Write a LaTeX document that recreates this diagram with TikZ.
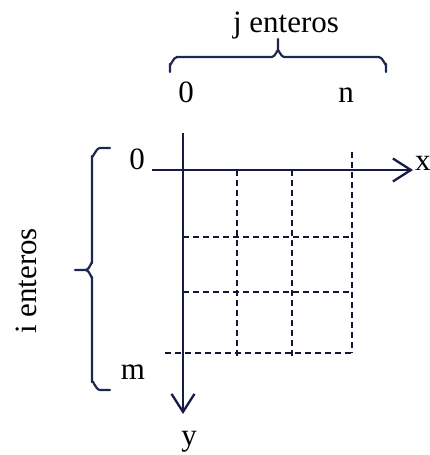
\documentclass[tikz,border=0pt]{standalone}
\usepackage{fontspec}
\setmainfont{Liberation Serif}
\usetikzlibrary{arrows.meta}
\definecolor{axiscol}{RGB}{22,26,70}
\definecolor{bracecol}{RGB}{28,40,80}
\definecolor{dashcol}{RGB}{20,22,50}
\begin{document}
\begin{tikzpicture}[x=1pt,y=-1pt,
  lbl/.style={inner sep=0pt,font=\fontsize{31}{36}\selectfont},
  axis/.style={draw=axiscol,line width=2.3pt,-{Straight Barb[length=18pt,width=23pt]}},
  gridline/.style={draw=dashcol,line width=1.7pt,dash pattern=on 6pt off 4pt},
  bracepath/.style={draw=bracecol,line width=2.2pt,line cap=round,line join=round}]
\useasboundingbox (0,0) rectangle (430,455);
% axis coordinates
\coordinate (ytop) at (183,133);
\coordinate (ytip) at (183,414);
\coordinate (xleft) at (152,170);
\coordinate (xtip) at (413,170);
% grid coordinates
\coordinate (a1) at (237,170); \coordinate (a2) at (237,357);
\coordinate (b1) at (292,170); \coordinate (b2) at (292,357);
\coordinate (c1) at (352,152); \coordinate (c2) at (352,353);
\coordinate (h1l) at (183,237); \coordinate (h1r) at (352,237);
\coordinate (h2l) at (183,292); \coordinate (h2r) at (352,292);
\coordinate (h3l) at (165,353); \coordinate (h3r) at (352,353);
% dashed grid
\draw[gridline] (a1) -- (a2);
\draw[gridline] (b1) -- (b2);
\draw[gridline] (c1) -- (c2);
\draw[gridline] (h1l) -- (h1r);
\draw[gridline] (h2l) -- (h2r);
\draw[gridline] (h3l) -- (h3r);
% axes
\draw[axis] (ytop) -- (ytip);
\draw[axis] (xleft) -- (xtip);
% top brace
\draw[bracepath] (170,72) -- (170,64) to[out=-90,in=180] (177,57) -- (272,57)
  to[out=0,in=90] (278,51) -- (278,39);
\draw[bracepath] (278,51) to[out=90,in=180] (284,57) -- (379,57)
  to[out=0,in=-90] (386,64) -- (386,72);
% left brace
\draw[bracepath] (110,148) -- (100,148) to[out=180,in=-90] (92,156) -- (92,263)
  to[out=90,in=0] (86,270) -- (75,270);
\draw[bracepath] (86,270) to[out=0,in=-90] (92,277) -- (92,382)
  to[out=90,in=180] (100,390) -- (110,390);
% labels
\node[lbl,anchor=base] (jlab) at (286,32) {j enteros};
\node[lbl,anchor=base] (zt) at (186,102) {0};
\node[lbl,anchor=base] (nt) at (346,102) {n};
\node[lbl,anchor=base] (zl) at (137,169) {0};
\node[lbl,anchor=base] (ml) at (133,379) {m};
\node[lbl,anchor=base west] (xl) at (415,170) {x};
\node[lbl,anchor=base] (yl) at (189,445) {y};
\node[lbl,anchor=base,rotate=90] (ilab) at (36,281) {i enteros};
\end{tikzpicture}
\end{document}
